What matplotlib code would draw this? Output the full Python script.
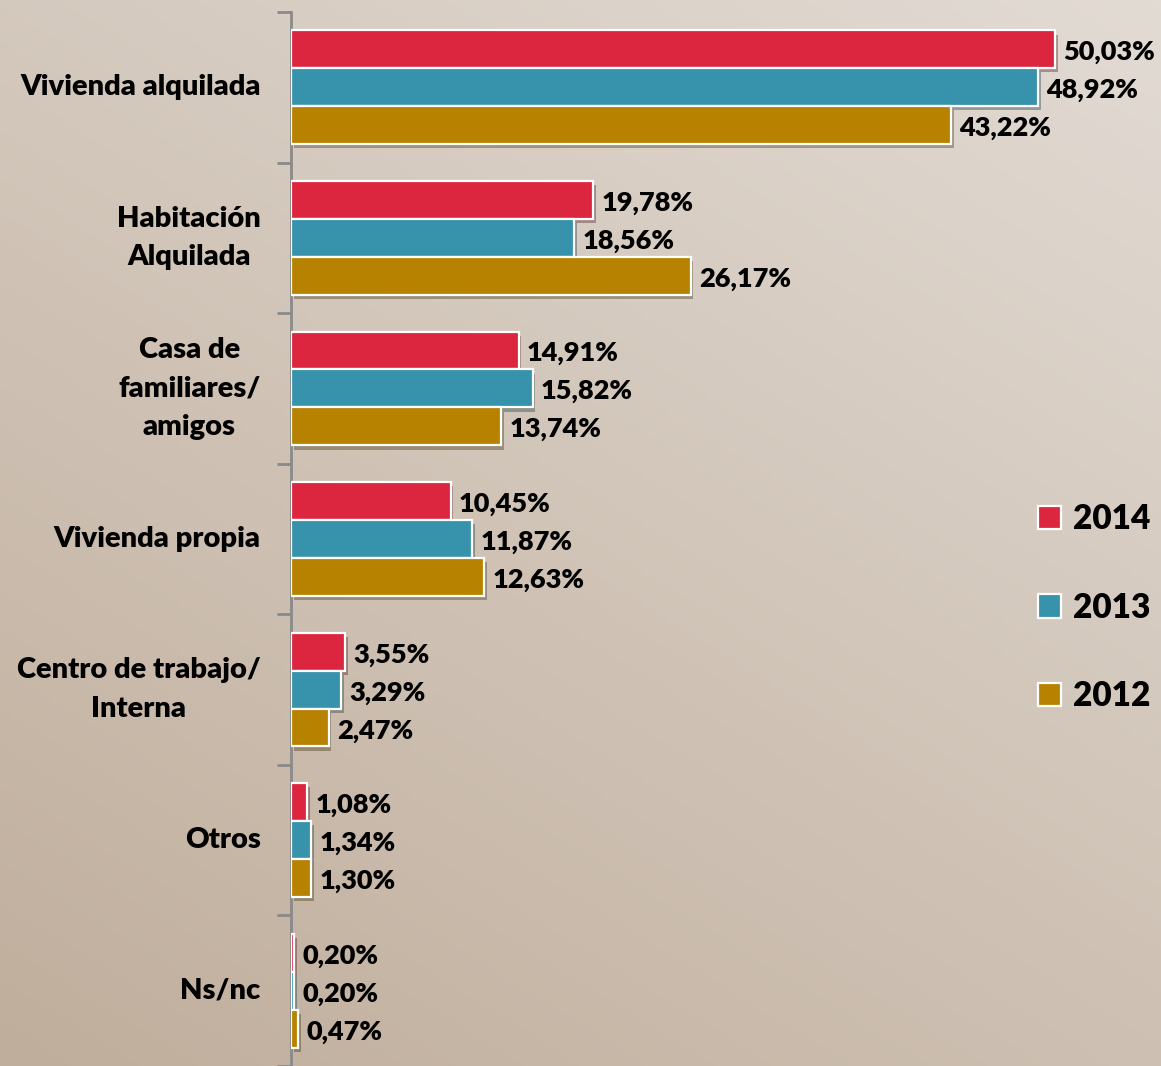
import numpy as np
import matplotlib.pyplot as plt
import matplotlib.patheffects as pe
from matplotlib.colors import LinearSegmentedColormap

categories = ["Vivienda alquilada", "Habitación\nAlquilada", "Casa de\nfamiliares/\namigos",
              "Vivienda propia", "Centro de trabajo/\nInterna", "Otros", "Ns/nc"]
years = ["2014", "2013", "2012"]
v2014 = [50.03, 19.78, 14.91, 10.45, 3.55, 1.08, 0.20]
v2013 = [48.92, 18.56, 15.82, 11.87, 3.29, 1.34, 0.20]
v2012 = [43.22, 26.17, 13.74, 12.63, 2.47, 1.30, 0.47]
colors = ["#DC2640", "#3792AB", "#B78200"]

plt.rcParams['font.family'] = ['Lato', 'DejaVu Sans']

fig = plt.figure(figsize=(11.61, 10.66), dpi=100)

# background gradient: lighter top-right, darker bottom-left
bg = fig.add_axes([0, 0, 1, 1], zorder=-10)
xx, yy = np.meshgrid(np.linspace(0, 1, 200), np.linspace(0, 1, 200))
grad = 0.6 * (1 - yy) + 0.4 * (1 - xx)
cmap = LinearSegmentedColormap.from_list("bg", ["#e2dbd4", "#c0ae9c"])
bg.imshow(grad, cmap=cmap, aspect="auto", extent=[0, 1, 0, 1], origin="lower")
bg.axis("off")

ax = fig.add_axes([291 / 1161, 0, 870 / 1161, 1054 / 1066])
ax.patch.set_alpha(0)

n = len(categories)
h = 0.252
y = np.arange(n)
shadow = [pe.SimplePatchShadow(offset=(2, -3), alpha=0.35), pe.Normal()]
for i, (vals, c) in enumerate(zip([v2014, v2013, v2012], colors)):
    pos = y + (i - 1) * h
    bars = ax.barh(pos, vals, height=h, color=c, edgecolor="white", linewidth=1.6,
                   label=years[i], zorder=3)
    for b in bars:
        b.set_path_effects(shadow)
    for p, v in zip(pos, vals):
        ax.text(v + 0.55, p + 0.02, f"{v:.2f}%".replace(".", ","), va="center", ha="left",
                fontsize=19.5, fontweight="heavy", color="black")

ax.set_ylim(n - 0.5, -0.5)
ax.set_xlim(0, 870 / 15.27)
ax.set_yticks(np.arange(n + 1) - 0.5)
ax.set_yticklabels([])
for k, lab in enumerate(categories):
    ax.text(-0.035, k, lab, transform=ax.get_yaxis_transform(), ha="right", va="center",
            multialignment="center", fontsize=21, fontweight="heavy", linespacing=1.6)
ax.tick_params(axis="y", length=10, width=2, color="#8a8a8a", direction="out")
ax.set_xticks([])
for s in ["top", "right", "bottom"]:
    ax.spines[s].set_visible(False)
ax.spines["left"].set_color("#8a8a8a")
ax.spines["left"].set_linewidth(2)

leg = fig.legend(*ax.get_legend_handles_labels(), loc="center left",
                 bbox_to_anchor=(1038 / 1161, 0.43), frameon=False, borderpad=0,
                 borderaxespad=0, prop={"size": 24, "weight": "heavy"}, labelspacing=1.7,
                 handlelength=0.7, handleheight=0.7, handletextpad=0.35)
for hnd in leg.legend_handles:
    hnd.set_path_effects([])

fig.savefig("out.png", dpi=100)
